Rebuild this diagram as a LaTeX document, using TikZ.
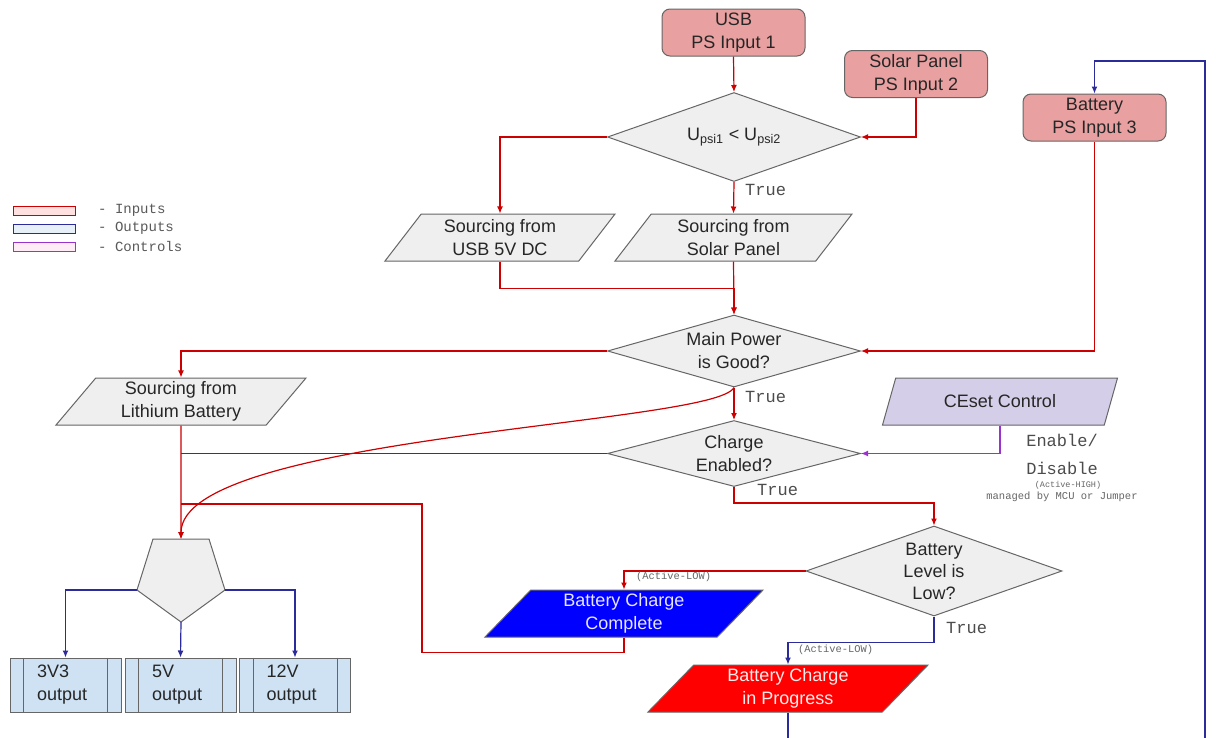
\documentclass[tikz,border=0pt]{standalone}
\usepackage{fontspec}
\setmainfont{Liberation Sans}
\setmonofont{Liberation Mono}
\usetikzlibrary{arrows.meta,shapes.geometric}
\definecolor{inred}{HTML}{CC0000}
\definecolor{outblue}{HTML}{2B2B9B}
\definecolor{ctlpurple}{HTML}{9933CC}
\definecolor{boxgray}{HTML}{666666}
\definecolor{inpink}{HTML}{E8A0A0}
\definecolor{procgray}{HTML}{EFEFEF}
\definecolor{ctllilac}{HTML}{D5CEE8}
\definecolor{outsky}{HTML}{CFE2F3}
\tikzset{
  base/.style={draw=boxgray, line width=1pt, text=black!85, align=center, inner sep=0pt,
    font=\fontsize{18}{23}\selectfont},
  inbox/.style={base, rectangle, rounded corners=8pt, fill=inpink, minimum width=143pt, minimum height=47pt},
  decide/.style={base, diamond, fill=procgray, aspect=3.8},
  para/.style={base, trapezium, trapezium left angle=45, trapezium right angle=135,
    trapezium stretches body, fill=procgray, minimum height=47pt},
  outbox/.style={base, rectangle, fill=outsky, minimum width=111pt, minimum height=54pt,
    text width=57pt, align=left},
  redline/.style={draw=inred, line width=1.2pt},
  redarrow/.style={redline, -{Latex[length=7pt,width=6pt]}},
  bluearrow/.style={draw=outblue, line width=1.2pt, -{Latex[length=7pt,width=6pt]}},
  ctlarrow/.style={draw=ctlpurple, line width=1.2pt, -{Latex[length=7pt,width=6pt]}},
  truelbl/.style={font=\ttfamily\fontsize{17}{20}\selectfont, text=black!70, anchor=west, inner sep=0pt},
  lowlbl/.style={font=\ttfamily\fontsize{10.4}{12}\selectfont, text=black!60, anchor=west, inner sep=0pt},
  legendlbl/.style={font=\ttfamily\fontsize{14}{16}\selectfont, text=black!65, anchor=west, inner sep=0pt}
}
\begin{document}
\begin{tikzpicture}[x=1pt,y=-1pt]
  \clip (0,0) rectangle (1216,737);
  \fill[white] (0,0) rectangle (1216,737);
  %legend
  \draw[draw=inred, fill=red!12, line width=1pt] (13,206) rectangle (75,215);
  \draw[draw=outblue, fill=outsky!50, line width=1pt] (13,224) rectangle (75,233);
  \draw[draw=ctlpurple, fill=magenta!8, line width=1pt] (13,242) rectangle (75,251);
  \node[legendlbl] (lgIn) at (98,210.5) {- Inputs};
  \node[legendlbl] (lgOut) at (98,228.5) {- Outputs};
  \node[legendlbl] (lgCtl) at (98,246.5) {- Controls};
  %inputs
  \node[inbox] (usb) at (733.5,32.5) {USB\\PS Input 1};
  \node[inbox] (solar) at (916,74) {Solar Panel\\PS Input 2};
  \node[inbox] (battery) at (1094.5,117.5) {Battery\\PS Input 3};
  %decisions
  \node[decide, minimum width=253pt, minimum height=89pt] (cmp) at (734,137)
    {U\textsubscript{psi1} < U\textsubscript{psi2}};
  \node[decide, minimum width=253pt, minimum height=72pt] (good) at (734,351) {Main Power\\is Good?};
  \node[decide, minimum width=253pt, minimum height=66pt] (enab) at (734,453.5) {Charge\\Enabled?};
  \node[decide, aspect=2.5, minimum width=256pt, minimum height=90pt,
    font=\fontsize{18}{22}\selectfont] (low) at (934,571) {Battery\\Level is\\Low?};
  %sources
  \node[para, minimum width=230pt] (usbsrc) at (500,237.5) {Sourcing from\\USB 5V DC};
  \node[para, minimum width=237pt] (solsrc) at (733.5,237.5) {Sourcing from\\Solar Panel};
  \node[para, minimum width=250pt] (lith) at (181,401.5) {Sourcing from\\Lithium Battery};
  \node[para, minimum width=235pt, fill=ctllilac] (ceset) at (1000,401.5) {CEset Control};
  \node[para, minimum width=278pt, fill=blue, text=blue!10, trapezium left angle=41,
    trapezium right angle=139] (done) at (624,613.5) {Battery Charge\\Complete};
  \node[para, minimum width=280pt, fill=red, text=red!8, trapezium left angle=41,
    trapezium right angle=139] (prog) at (788,688.5) {Battery Charge\\in Progress};
  %outputs
  \node[outbox] (out1) at (65.5,685) {3V3\\output};
  \node[outbox] (out2) at (180.5,685) {5V\\output};
  \node[outbox] (out3) at (295,685) {12V\\output};
  \foreach \o in {out1,out2,out3} {
    \draw[draw=boxgray, line width=1pt] ([xshift=14pt]\o.north west) -- ([xshift=14pt]\o.south west);
    \draw[draw=boxgray, line width=1pt] ([xshift=-14pt]\o.north east) -- ([xshift=-14pt]\o.south east);
  }
  %regulator
  \coordinate (pTop) at (181,539);
  \coordinate (pL) at (137,590);
  \coordinate (pR) at (225,590);
  \coordinate (pB) at (181,622);
  \draw[draw=boxgray, fill=procgray, line width=1pt] (153,539) -- (209,539) -- (pR) -- (pB) -- (pL) -- cycle;
  %input lines
  \draw[redarrow] (usb.south) -- (cmp.north);
  \draw[redarrow] (solar.south) |- (cmp.east);
  \draw[redarrow] (cmp.west) -| (usbsrc.north);
  \draw[redarrow] (cmp.south) -- (solsrc.north);
  \node[truelbl] (t1) at (745,190) {True};
  \draw[redarrow] (usbsrc.south) -- ++(0,27) -| (good.north);
  \draw[redarrow] (solsrc.south) -- (good.north);
  \draw[redarrow] (battery.south) |- (good.east);
  \draw[redarrow] (good.west) -| (lith.north);
  \draw[redarrow] (good.south) -- (enab.north);
  \node[truelbl] (t2) at (745,397) {True};
  \draw[redarrow] (good.south) .. controls (715,425) and (181,435) .. (pTop);
  \draw[redarrow] (lith.south) -- (pTop);
  \draw[redline] (enab.west) -- (enab.west -| lith.south);
  \coordinate (tapLow) at (422,504);
  \draw[redline] (done.south) -- ++(0,15) -| (tapLow) -- (tapLow -| lith.south);
  %control
  \draw[ctlarrow] (ceset.south) |- (enab.east);
  \node[font=\ttfamily\fontsize{17}{28}\selectfont, text=black!70, inner sep=0pt, align=center] (ceLbl) at (1062,454) {Enable/\\Disable};
  \node[font=\ttfamily\fontsize{8.5}{10}\selectfont, text=black!60, inner sep=0pt] (ceHigh) at (1068,485) {(Active-HIGH)};
  \node[font=\ttfamily\fontsize{10.5}{12}\selectfont, text=black!60, inner sep=0pt] (ceMcu) at (1062,497) {managed by MCU or Jumper};
  %charge
  \draw[redarrow] (enab.south) -- ++(0,16) -| (low.north);
  \node[truelbl] (t3) at (757,490) {True};
  \draw[redarrow] (low.west) -| (done.north);
  \node[lowlbl] (lowA) at (636,577) {(Active-LOW)};
  \draw[bluearrow] (low.south) -- ++(0,26) -| (prog.north);
  \node[truelbl] (t4) at (946,628) {True};
  \node[lowlbl] (lowB) at (798,650) {(Active-LOW)};
  \draw[bluearrow] (prog.south) |- (1205,752) -- (1205,61) -| (battery.north);
  %outputs
  \draw[bluearrow] (pL) -| (out1.north);
  \draw[bluearrow] (pB) -- (out2.north);
  \draw[bluearrow] (pR) -| (out3.north);
\end{tikzpicture}
\end{document}
